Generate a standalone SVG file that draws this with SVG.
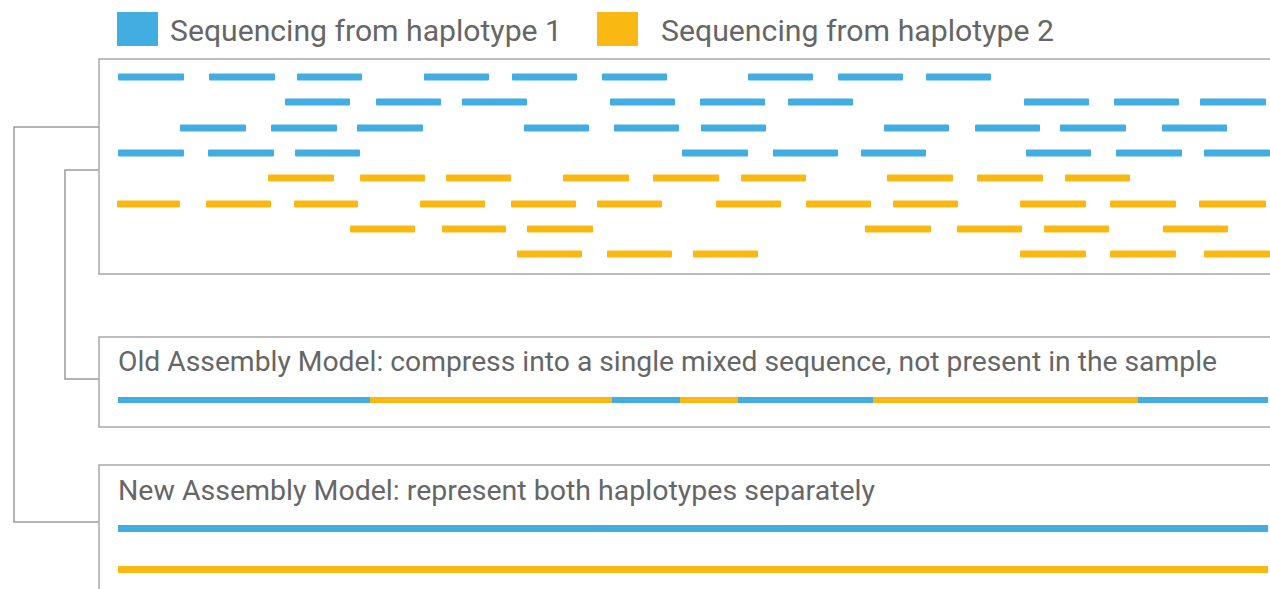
<svg xmlns="http://www.w3.org/2000/svg" width="1270" height="589" viewBox="0 0 1270 589">
  <style>
    .h1 { fill: #41ade0; }
    .h2 { fill: #f9b912; }
    .box { fill: #ffffff; stroke: #a9a9a9; stroke-width: 1.5; }
    .wire { fill: none; stroke: #9a9a9a; stroke-width: 1.5; }
    .lbl { font-family: Roboto, "Liberation Sans", Arial, sans-serif; font-weight: 400; fill: #666666; }
    .legend { font-size: 29px; }
    .title { font-size: 27px; }
  </style>
  <rect width="1270" height="589" fill="#ffffff"/>

  <!-- legend -->
  <g id="legend">
    <rect class="h1" x="117" y="12" width="41" height="34"/>
    <text class="lbl legend" x="170" y="41" textLength="392" lengthAdjust="spacingAndGlyphs">Sequencing from haplotype 1</text>
    <rect class="h2" x="597" y="12" width="41" height="34"/>
    <text class="lbl legend" x="661" y="41" textLength="393" lengthAdjust="spacingAndGlyphs">Sequencing from haplotype 2</text>
  </g>

  <!-- connectors -->
  <g id="connectors">
    <path class="wire" d="M99 127 H14 V522 H99"/>
    <path class="wire" d="M99 170 H65 V379 H99"/>
  </g>

  <!-- sequencing reads -->
  <g id="reads">
    <rect class="box" x="99" y="59" width="1200" height="215"/>
    <g class="h1">
      <!-- row 1 -->
      <rect x="118" y="73.5" width="66" height="7" rx="1"/>
      <rect x="209" y="73.5" width="66" height="7" rx="1"/>
      <rect x="297" y="73.5" width="65" height="7" rx="1"/>
      <rect x="424" y="73.5" width="65" height="7" rx="1"/>
      <rect x="512" y="73.5" width="65" height="7" rx="1"/>
      <rect x="602" y="73.5" width="65" height="7" rx="1"/>
      <rect x="748" y="73.5" width="65" height="7" rx="1"/>
      <rect x="838" y="73.5" width="65" height="7" rx="1"/>
      <rect x="926" y="73.5" width="65" height="7" rx="1"/>
      <!-- row 2 -->
      <rect x="285" y="98.5" width="65" height="7" rx="1"/>
      <rect x="376" y="98.5" width="65" height="7" rx="1"/>
      <rect x="462" y="98.5" width="65" height="7" rx="1"/>
      <rect x="610" y="98.5" width="65" height="7" rx="1"/>
      <rect x="700" y="98.5" width="65" height="7" rx="1"/>
      <rect x="788" y="98.5" width="65" height="7" rx="1"/>
      <rect x="1024" y="98.5" width="65" height="7" rx="1"/>
      <rect x="1114" y="98.5" width="65" height="7" rx="1"/>
      <rect x="1200" y="98.5" width="66" height="7" rx="1"/>
      <!-- row 3 -->
      <rect x="180" y="124.5" width="66" height="7" rx="1"/>
      <rect x="271" y="124.5" width="66" height="7" rx="1"/>
      <rect x="357" y="124.5" width="66" height="7" rx="1"/>
      <rect x="524" y="124.5" width="65" height="7" rx="1"/>
      <rect x="614" y="124.5" width="65" height="7" rx="1"/>
      <rect x="701" y="124.5" width="65" height="7" rx="1"/>
      <rect x="884" y="124.5" width="65" height="7" rx="1"/>
      <rect x="975" y="124.5" width="65" height="7" rx="1"/>
      <rect x="1060" y="124.5" width="66" height="7" rx="1"/>
      <rect x="1162" y="124.5" width="65" height="7" rx="1"/>
      <!-- row 4 -->
      <rect x="118" y="149.5" width="66" height="7" rx="1"/>
      <rect x="208" y="149.5" width="66" height="7" rx="1"/>
      <rect x="295" y="149.5" width="65" height="7" rx="1"/>
      <rect x="682" y="149.5" width="66" height="7" rx="1"/>
      <rect x="773" y="149.5" width="65" height="7" rx="1"/>
      <rect x="861" y="149.5" width="65" height="7" rx="1"/>
      <rect x="1026" y="149.5" width="65" height="7" rx="1"/>
      <rect x="1116" y="149.5" width="66" height="7" rx="1"/>
      <rect x="1204" y="149.5" width="66" height="7" rx="1"/>
    </g>
    <g class="h2">
      <!-- row 5 -->
      <rect x="268" y="174.5" width="66" height="7" rx="1"/>
      <rect x="360" y="174.5" width="65" height="7" rx="1"/>
      <rect x="446" y="174.5" width="65" height="7" rx="1"/>
      <rect x="563" y="174.5" width="66" height="7" rx="1"/>
      <rect x="653" y="174.5" width="66" height="7" rx="1"/>
      <rect x="741" y="174.5" width="65" height="7" rx="1"/>
      <rect x="887" y="174.5" width="66" height="7" rx="1"/>
      <rect x="977" y="174.5" width="66" height="7" rx="1"/>
      <rect x="1065" y="174.5" width="65" height="7" rx="1"/>
      <!-- row 6 -->
      <rect x="117" y="200.5" width="63" height="7" rx="1"/>
      <rect x="206" y="200.5" width="65" height="7" rx="1"/>
      <rect x="294" y="200.5" width="64" height="7" rx="1"/>
      <rect x="420" y="200.5" width="65" height="7" rx="1"/>
      <rect x="511" y="200.5" width="65" height="7" rx="1"/>
      <rect x="597" y="200.5" width="65" height="7" rx="1"/>
      <rect x="716" y="200.5" width="65" height="7" rx="1"/>
      <rect x="806" y="200.5" width="65" height="7" rx="1"/>
      <rect x="893" y="200.5" width="65" height="7" rx="1"/>
      <rect x="1020" y="200.5" width="66" height="7" rx="1"/>
      <rect x="1110" y="200.5" width="66" height="7" rx="1"/>
      <rect x="1199" y="200.5" width="67" height="7" rx="1"/>
      <!-- row 7 -->
      <rect x="350" y="225.5" width="65" height="7" rx="1"/>
      <rect x="442" y="225.5" width="64" height="7" rx="1"/>
      <rect x="527" y="225.5" width="66" height="7" rx="1"/>
      <rect x="865" y="225.5" width="66" height="7" rx="1"/>
      <rect x="957" y="225.5" width="65" height="7" rx="1"/>
      <rect x="1044" y="225.5" width="65" height="7" rx="1"/>
      <rect x="1163" y="225.5" width="65" height="7" rx="1"/>
      <!-- row 8 -->
      <rect x="517" y="250.5" width="65" height="7" rx="1"/>
      <rect x="607" y="250.5" width="65" height="7" rx="1"/>
      <rect x="693" y="250.5" width="65" height="7" rx="1"/>
      <rect x="1020" y="250.5" width="66" height="7" rx="1"/>
      <rect x="1110" y="250.5" width="66" height="7" rx="1"/>
      <rect x="1204" y="250.5" width="66" height="7" rx="1"/>
    </g>
  </g>

  <!-- collapsed assembly -->
  <g id="old-model">
    <rect class="box" x="99" y="337" width="1200" height="90"/>
    <text class="lbl title" x="118" y="371" textLength="1099" lengthAdjust="spacingAndGlyphs">Old Assembly Model: compress into a single mixed sequence, not present in the sample</text>
    <rect class="h1" x="118" y="397" width="252" height="6"/>
    <rect class="h2" x="370" y="397" width="242" height="6"/>
    <rect class="h1" x="612" y="397" width="68" height="6"/>
    <rect class="h2" x="680" y="397" width="58" height="6"/>
    <rect class="h1" x="738" y="397" width="135" height="6"/>
    <rect class="h2" x="873" y="397" width="265" height="6"/>
    <rect class="h1" x="1138" y="397" width="130" height="6"/>
  </g>

  <!-- phased assembly -->
  <g id="new-model">
    <rect class="box" x="99" y="465" width="1200" height="200"/>
    <text class="lbl title" x="118" y="500" textLength="757" lengthAdjust="spacingAndGlyphs">New Assembly Model: represent both haplotypes separately</text>
    <rect class="h1" x="118" y="525" width="1150" height="7"/>
    <rect class="h2" x="118" y="566" width="1150" height="7"/>
  </g>
</svg>
